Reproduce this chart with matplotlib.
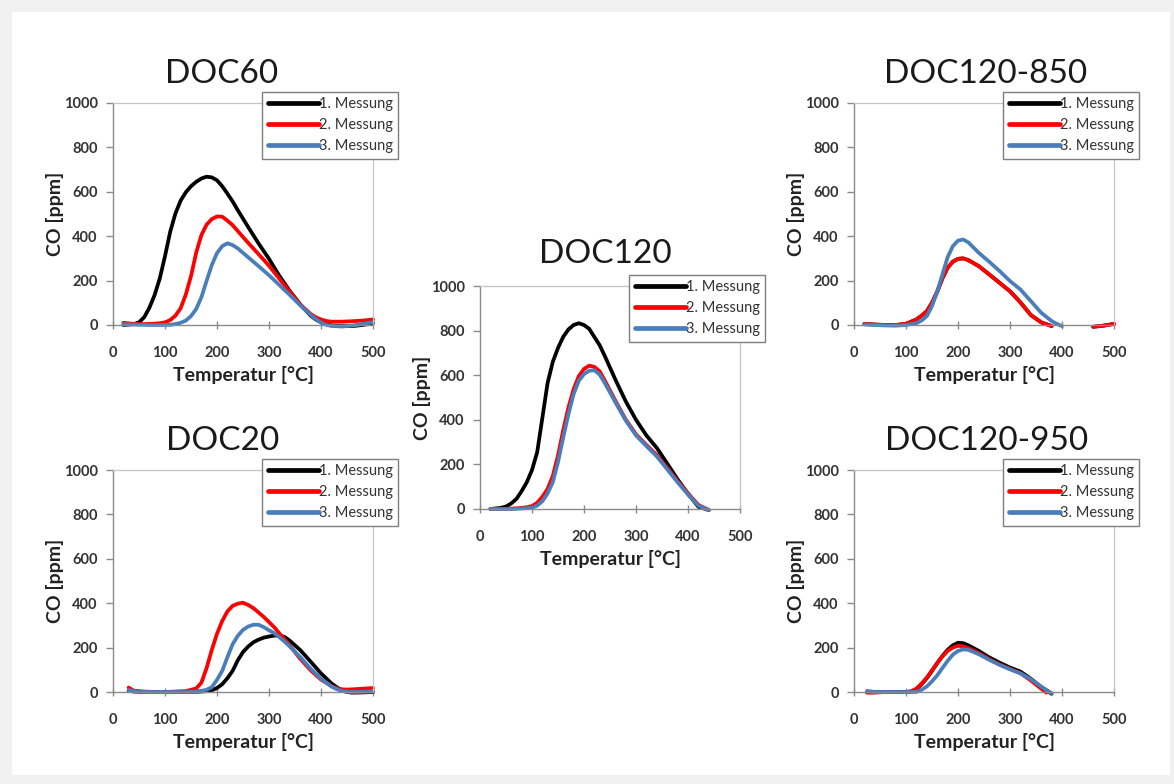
import numpy as np
import matplotlib
matplotlib.use('Agg')
import matplotlib.pyplot as plt
from matplotlib.patches import Rectangle

plt.rcParams['font.family'] = ['Lato', 'DejaVu Sans']

W, H = 1174, 784

nan = np.nan

# DOC60
t_doc60 = [20, 40, 50, 60, 70, 80, 90, 100, 110, 120, 130, 140, 150, 160, 170,
           180, 190, 200, 210, 220, 230, 240, 260, 280, 300, 320, 340, 360,
           380, 390, 400, 410, 420, 440, 460, 480, 500]
doc60_m1 = [0, 4, 12, 35, 78, 135, 210, 310, 420, 502, 560, 598, 625, 645, 660,
            668, 665, 652, 625, 592, 557, 517, 441, 367, 298, 221, 153, 93,
            42, 25, 12, 4, -2, -5, -5, 0, 8]
doc60_m2 = [10, 5, 4, 4, 5, 6, 8, 12, 22, 42, 75, 137, 220, 326, 405,
            452, 477, 489, 488, 470, 450, 423, 370, 319, 267, 208, 150, 92,
            50, 35, 25, 18, 15, 15, 17, 20, 25]
doc60_m3 = [4, 2, 1, 1, 0, 0, 0, 0, 1, 4, 10, 20, 40, 72, 125,
            199, 270, 324, 355, 368, 360, 345, 305, 265, 224, 180, 135, 89,
            45, 27, 11, 1, -4, -7, -3, 5, 12]

# DOC20
t_doc20 = [30, 40, 60, 80, 100, 120, 140, 160, 170, 180, 190, 200, 210, 220,
           230, 240, 250, 260, 270, 280, 290, 300, 310, 320, 330, 340, 360,
           380, 400, 420, 430, 440, 450, 460, 480, 500]
doc20_m1 = [5, 2, 0, 0, 0, 0, 0, 1, 2, 4, 8, 18, 35, 62,
            95, 143, 180, 205, 224, 236, 245, 250, 254, 254, 248, 231, 189,
            137, 84, 39, 22, 8, 0, -3, -2, 0]
doc20_m2 = [20, 6, 2, 0, 0, 2, 4, 16, 42, 108, 190, 262, 320, 363,
            388, 398, 402, 392, 378, 358, 338, 315, 292, 264, 237, 209, 150,
            98, 56, 27, 17, 12, 11, 12, 15, 18]
doc20_m3 = [9, 4, 0, 0, 0, 0, 0, 2, 5, 10, 22, 55, 95, 157,
            215, 253, 280, 295, 303, 303, 292, 278, 265, 247, 227, 205, 158,
            105, 60, 25, 13, 5, 1, 0, 1, 3]

# DOC120
t_doc120 = [20, 40, 50, 60, 70, 80, 90, 100, 110, 120, 130, 140, 150, 160,
            170, 180, 190, 200, 210, 220, 230, 240, 260, 280, 300, 320, 340,
            360, 380, 400, 420, 440]
doc120_m1 = [0, 5, 11, 25, 45, 80, 120, 175, 255, 410, 565, 660, 722, 772,
             805, 825, 833, 825, 808, 771, 735, 686, 582, 484, 400, 330, 274,
             204, 133, 68, 10, -5]
doc120_m2 = [0, 0, 0, 2, 3, 5, 8, 13, 28, 55, 90, 148, 240, 353,
             455, 537, 596, 628, 643, 637, 618, 576, 487, 402, 335, 287, 242,
             184, 125, 70, 18, -4]
doc120_m3 = [0, 0, 0, 0, 1, 2, 4, 6, 15, 35, 70, 120, 210, 320,
             425, 515, 575, 605, 620, 622, 603, 565, 480, 398, 330, 282, 236,
             178, 120, 65, 15, -5]

# DOC120-850 (gaps where the signal drops below the axis)
t_doc120_850 = [20, 40, 60, 80, 100, 120, 130, 140, 150, 160, 170, 180, 190,
                200, 210, 220, 240, 260, 280, 300, 320, 340, 360, 380, 390,
                400, 420, 440, 460, 480, 500]
doc120_850_m1 = [5, 2, 0, 0, 5, 25, 42, 62, 100, 150, 210, 258, 285,
                 298, 300, 292, 265, 228, 190, 152, 102, 45, 12, -5, nan,
                 nan, nan, nan, -8, -3, 5]
doc120_850_m2 = [5, 2, 0, 0, 5, 25, 42, 62, 100, 150, 210, 258, 285,
                 298, 300, 292, 265, 228, 190, 152, 102, 45, 12, -5, nan,
                 nan, nan, nan, -8, -3, 5]
doc120_850_m3 = [2, 0, -2, -3, 0, 8, 20, 40, 85, 150, 228, 305, 355,
                 380, 385, 372, 325, 285, 243, 198, 160, 108, 55, 18, 5,
                 -5, nan, nan, nan, nan, nan]

# DOC120-950
t_doc120_950 = [25, 40, 60, 80, 100, 110, 120, 130, 140, 150, 160, 170, 180,
                190, 200, 210, 220, 240, 260, 280, 300, 320, 340, 360, 370, 380]
doc120_950_m1 = [0, 0, 0, 0, 0, 2, 12, 35, 62, 95, 130, 162, 190,
                 210, 222, 220, 210, 185, 156, 132, 110, 92, 60, 22, 8, -8]
doc120_950_m2 = [-3, -3, 0, 0, 0, 3, 15, 38, 65, 98, 130, 160, 185,
                 200, 208, 206, 198, 175, 148, 124, 104, 85, 52, 15, -3, nan]
doc120_950_m3 = [5, 0, 0, 0, 0, 0, 0, 10, 25, 48, 75, 108, 140,
                 168, 185, 192, 190, 170, 145, 122, 102, 84, 58, 25, 8, -5]

labels = ['1. Messung', '2. Messung', '3. Messung']
colors = ['#000000', '#ff0000', '#4a7ebb']

x_ticks = [0, 100, 200, 300, 400, 500]
y_ticks = [0, 200, 400, 600, 800, 1000]


def px_axes(fig, left, top, right, bottom):
    return fig.add_axes([left / W, 1 - bottom / H, (right - left) / W, (bottom - top) / H])


def draw_panel(ax, temps, series, title, title_x, title_y):
    for values, label, color in zip(series, labels, colors):
        ax.plot(temps, values, color=color, lw=2.7, label=label,
                solid_capstyle='round', solid_joinstyle='round', clip_on=False)
    ax.set_xlim(0, 500)
    ax.set_ylim(0, 1000)
    ax.set_xticks(x_ticks)
    ax.set_yticks(y_ticks)
    for s in ['left', 'bottom']:
        ax.spines[s].set_color('#8a8a8a')
        ax.spines[s].set_linewidth(1.0)
    for s in ['top', 'right']:
        ax.spines[s].set_color('#c4c4c4')
        ax.spines[s].set_linewidth(0.9)
    ax.tick_params(axis='x', direction='inout', length=6, width=1.0,
                   color='#8a8a8a', pad=12, labelsize=10.5, labelcolor='#333333')
    ax.tick_params(axis='y', direction='out', length=5, width=1.0,
                   color='#8a8a8a', pad=6, labelsize=10.5, labelcolor='#333333')
    for lab in ax.get_xticklabels() + ax.get_yticklabels():
        lab.set_fontweight('bold')
    ax.set_xlabel('Temperatur [°C]', fontsize=14, fontweight='bold', color='#222222')
    ax.set_ylabel('CO [ppm]', fontsize=14, fontweight='bold', color='#222222')
    ax.xaxis.set_label_coords(0.5, -0.185)
    ax.yaxis.set_label_coords(-0.19, 0.5)
    leg = ax.legend(loc='upper left', bbox_to_anchor=(0.573, 1.05),
                    borderaxespad=0, fontsize=10.5, handlelength=3.5,
                    handletextpad=0.0, labelspacing=0.48, borderpad=0.38,
                    fancybox=False, framealpha=1, edgecolor='#7f7f7f')
    leg.get_frame().set_linewidth(1.0)
    for line in leg.get_lines():
        line.set_linewidth(3.4)
    for txt in leg.get_texts():
        txt.set_color('#333333')
    fig.text(title_x / W, 1 - title_y / H, title, fontsize=24,
             ha='center', va='baseline', color='#1a1a1a')


fig = plt.figure(figsize=(W / 100, H / 100), dpi=100, facecolor='#f1f1f1')
# white sheet behind the panels
fig.patches.append(Rectangle((12 / W, 9 / H), (1170 - 12) / W, (775 - 12) / H,
                             transform=fig.transFigure, facecolor='white',
                             edgecolor='none', zorder=-10))

ax60 = px_axes(fig, 113, 103, 373, 325)
draw_panel(ax60, t_doc60, [doc60_m1, doc60_m2, doc60_m3], 'DOC60', 222, 83)

ax20 = px_axes(fig, 113, 470, 373, 692)
draw_panel(ax20, t_doc20, [doc20_m1, doc20_m2, doc20_m3], 'DOC20', 223, 450)

ax120 = px_axes(fig, 480, 286, 740, 509)
draw_panel(ax120, t_doc120, [doc120_m1, doc120_m2, doc120_m3], 'DOC120', 605, 263)

ax850 = px_axes(fig, 854, 103, 1114, 325)
draw_panel(ax850, t_doc120_850, [doc120_850_m1, doc120_850_m2, doc120_850_m3],
           'DOC120-850', 986, 83)

ax950 = px_axes(fig, 854, 470, 1114, 692)
draw_panel(ax950, t_doc120_950, [doc120_950_m1, doc120_950_m2, doc120_950_m3],
           'DOC120-950', 987, 450)

fig.savefig('out.png', dpi=100, facecolor=fig.get_facecolor())
